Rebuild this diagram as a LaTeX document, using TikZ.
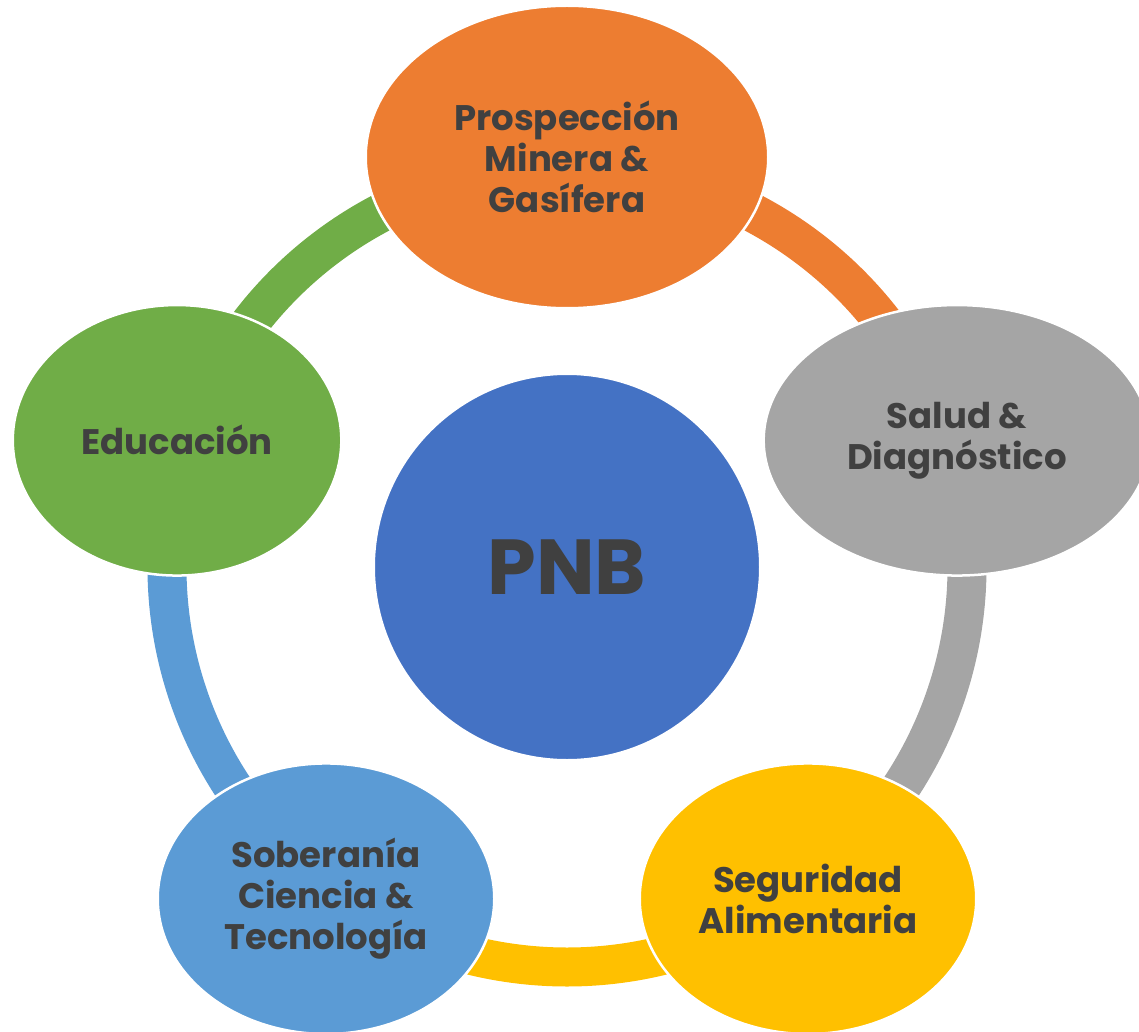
\documentclass[tikz,border=0pt]{standalone}
\usepackage{fontspec}
\setmainfont{Poppins}
\usepackage{xcolor}
\usepackage{tikz}
\usetikzlibrary{shapes.geometric}

\definecolor{pnbBlue}{HTML}{4472C4}
\definecolor{prosOrange}{HTML}{ED7D31}
\definecolor{saludGray}{HTML}{A5A5A5}
\definecolor{segGold}{HTML}{FFC000}
\definecolor{sobBlue}{HTML}{5B9BD5}
\definecolor{eduGreen}{HTML}{70AD47}
\definecolor{txtGray}{HTML}{404040}

\begin{document}
\begin{tikzpicture}[
  x=1pt, y=1pt,
  leaf/.style={
    ellipse, draw=white, line width=2.5pt,
    text=txtGray, align=center, inner sep=0pt,
    font=\bfseries\fontsize{35.5}{41}\selectfont
  },
  hub/.style={
    circle, draw=white, line width=2.5pt,
    fill=pnbBlue, text=txtGray,
    minimum size=386.5pt,
    font=\bfseries\fontsize{78}{84}\selectfont
  },
  ring/.style={line width=39pt},
]
\useasboundingbox (-567,-464) rectangle (572,567);

% --- points on the ring ---
\coordinate (K1) at (90:400);
\coordinate (K2) at (18:400);
\coordinate (K3) at (-54:400);
\coordinate (K4) at (234:400);
\coordinate (K5) at (162:400);

% --- ring segments (under the ellipses) ---
\draw[ring, draw=prosOrange] (K1) arc[start angle=90, end angle=18, radius=400];
\draw[ring, draw=saludGray] (K2) arc[start angle=18, end angle=-54, radius=400];
\draw[ring, draw=segGold] (K3) arc[start angle=-54, end angle=-126, radius=400];
\draw[ring, draw=sobBlue] (K4) arc[start angle=234, end angle=162, radius=400];
\draw[ring, draw=eduGreen] (K5) arc[start angle=162, end angle=90, radius=400];

% --- centre ---
\node[hub] (PNB) at (0,0) {PNB};

% --- outer ellipses ---
\node[leaf, fill=prosOrange, minimum width=402.5pt, minimum height=302.5pt] (PROS) at (90:410) {Prospección\\ Minera \&\\ Gasífera};
\node[leaf, fill=saludGray, minimum width=386.5pt, minimum height=270.5pt] (SALUD) at (18:410) {Salud \&\\ Diagnóstico};
\node[leaf, fill=segGold, minimum width=336.5pt, minimum height=270.5pt] (SEG) at (-54:410) {Seguridad\\ Alimentaria};
\node[leaf, fill=sobBlue, minimum width=336.5pt, minimum height=270.5pt] (SOB) at (234:410) {Soberanía\\ Ciencia \&\\ Tecnología};
\node[leaf, fill=eduGreen, minimum width=328.5pt, minimum height=270.5pt] (EDU) at (162:410) {Educación};

\end{tikzpicture}
\end{document}
